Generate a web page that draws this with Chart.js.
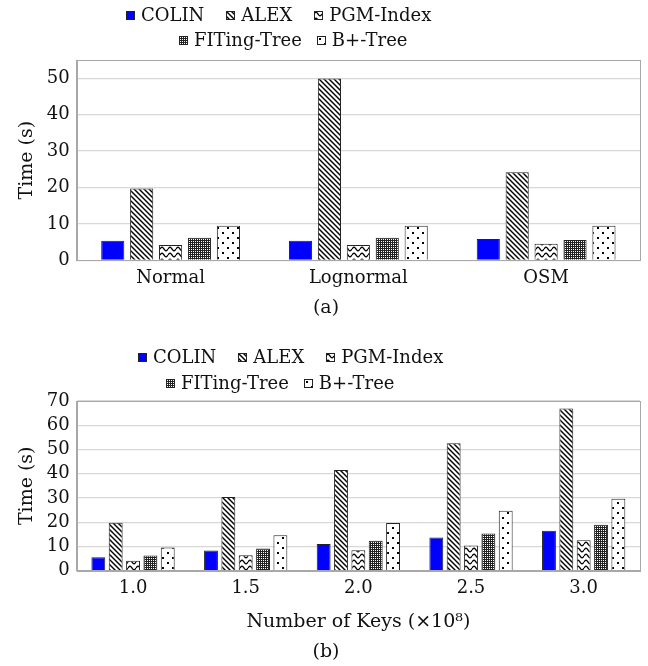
<!DOCTYPE html>
<html>
<head>
<meta charset="utf-8">
<script src="https://cdn.jsdelivr.net/npm/chart.js@4.4.0/dist/chart.umd.min.js"></script>
<style>
  body { margin: 0; background: #fff; font-family: "DejaVu Serif", serif; }
  .panel { position: absolute; left: 0; width: 648px; }
  .legend-row { position: absolute; display: flex; align-items: center; font-size: 18px; color: #111; white-space: nowrap; line-height: 22px; }
  .legend-item { display: flex; align-items: center; }
  .legend-item canvas { margin-right: 6px; }
</style>
</head>
<body>
<div class="panel" id="panelA" style="top:0;height:325px">
  <canvas id="chartA" width="648" height="325"></canvas>
</div>
<div class="panel" id="panelB" style="top:325px;height:341px">
  <canvas id="chartB" width="648" height="341"></canvas>
</div>
<script>
// ---- data ----
const seriesNames = ['COLIN', 'ALEX', 'PGM-Index', 'FITing-Tree', 'B+-Tree'];

// (a) datasets
const datasetsA = ['Normal', 'Lognormal', 'OSM'];
const colinA = [5.4, 5.4, 5.9];
const alexA  = [19.7, 49.9, 24.2];
const pgmA   = [4.2, 4.2, 4.6];
const fitA   = [6.2, 6.2, 5.6];
const btreeA = [9.5, 9.5, 9.5];

// (b) number of keys (x10^8)
const keysB  = ['1.0', '1.5', '2.0', '2.5', '3.0'];
const colinB = [5.5, 8.3, 11.0, 13.7, 16.4];
const alexB  = [19.7, 30.4, 41.5, 52.6, 66.9];
const pgmB   = [4.1, 6.3, 8.4, 10.4, 12.5];
const fitB   = [6.2, 9.1, 12.3, 15.3, 18.9];
const btreeB = [9.5, 14.6, 19.6, 24.7, 29.7];

const yMaxA = 55, yMaxB = 70, yStep = 10;

const FONT = '"DejaVu Serif", serif';

// ---- fill patterns ----
function makePattern(kind) {
    const c = document.createElement('canvas');
    let g;
    if (kind === 'solid') return '#0000ff';
    if (kind === 'lines') {
        const s = 5;
        c.width = s; c.height = s;
        g = c.getContext('2d');
        g.fillStyle = '#fff'; g.fillRect(0, 0, s, s);
        g.strokeStyle = '#000'; g.lineWidth = 1.4;
        [-s, 0, s].forEach(function(o) {
            g.beginPath(); g.moveTo(o - 1, -1); g.lineTo(o + s + 1, s + 1); g.stroke();
        });
    } else if (kind === 'waves') {
        const w = 8, h = 6;
        c.width = w; c.height = h;
        g = c.getContext('2d');
        g.fillStyle = '#fff'; g.fillRect(0, 0, w, h);
        g.strokeStyle = '#000'; g.lineWidth = 1.3;
        g.beginPath();
        for (let x = 0; x <= w; x += 0.5) {
            const y = 3 - 1.8 * Math.sin(2 * Math.PI * x / w);
            if (x === 0) g.moveTo(x, y); else g.lineTo(x, y);
        }
        g.stroke();
    } else if (kind === 'checker') {
        c.width = 4; c.height = 4;
        g = c.getContext('2d');
        g.fillStyle = '#222'; g.fillRect(0, 0, 4, 4);
        g.fillStyle = '#fff';
        g.fillRect(1, 1, 1, 1); g.fillRect(3, 3, 1, 1);
        g.fillRect(1, 3, 1, 1); g.fillRect(3, 1, 1, 1);
    } else if (kind === 'dots') {
        c.width = 10; c.height = 10;
        g = c.getContext('2d');
        g.fillStyle = '#fff'; g.fillRect(0, 0, 10, 10);
        g.fillStyle = '#000';
        g.fillRect(2, 2, 2, 2); g.fillRect(7, 7, 2, 2);
    }
    return document.createElement('canvas').getContext('2d').createPattern(c, 'repeat');
}

const patternKinds = ['solid', 'lines', 'waves', 'checker', 'dots'];
const fills = patternKinds.map(makePattern);

// frame around the plot area (top and right edges)
const framePlugin = {
    id: 'frame',
    afterDraw: function(chart) {
        const a = chart.chartArea, ctx = chart.ctx;
        ctx.save();
        ctx.strokeStyle = '#a8a8a8';
        ctx.lineWidth = 1;
        ctx.strokeRect(Math.round(a.left) + 0.5, Math.round(a.top) + 0.5,
                       Math.round(a.right - a.left), Math.round(a.bottom - a.top));
        ctx.restore();
    }
};

function buildDatasets(valueLists) {
    return valueLists.map(function(vals, i) {
        return {
            label: seriesNames[i],
            data: vals,
            backgroundColor: fills[i],
            borderColor: '#222',
            borderWidth: 1,
            categoryPercentage: 0.77,
            barPercentage: 0.8
        };
    });
}

function makeOptions(yMax, xTitle, caption, pad, titlePad) {
    return {
        responsive: false,
        animation: false,
        layout: { padding: pad },
        plugins: {
            legend: { display: false },
            tooltip: { enabled: false },
            title: {
                display: true,
                text: caption,
                position: 'bottom',
                color: '#111',
                font: { family: FONT, size: 19, weight: 'normal' },
                padding: titlePad
            }
        },
        scales: {
            x: {
                grid: { display: false, drawTicks: false },
                border: { color: '#a8a8a8' },
                ticks: { color: '#111', padding: 8, font: { family: FONT, size: 18, lineHeight: 1.1 } },
                title: xTitle ? {
                    display: true, text: xTitle, color: '#111',
                    font: { family: FONT, size: 19 },
                    padding: { top: 4, bottom: 0 }
                } : { display: false }
            },
            y: {
                min: 0,
                max: yMax,
                grid: { color: '#d8d8d8', lineWidth: 1.2, drawTicks: false },
                border: { color: '#a8a8a8' },
                ticks: {
                    stepSize: yStep,
                    includeBounds: false,
                    padding: 7,
                    color: '#111',
                    font: { family: FONT, size: 18, lineHeight: 1 }
                },
                title: {
                    display: true, text: 'Time (s)', color: '#111',
                    font: { family: FONT, size: 19 },
                    padding: { top: 4, bottom: 1 }
                }
            }
        }
    };
}

new Chart(document.getElementById('chartA'), {
    type: 'bar',
    data: { labels: datasetsA, datasets: buildDatasets([colinA, alexA, pgmA, fitA, btreeA]) },
    options: makeOptions(yMaxA, null, '(a)', { top: 60, left: 12, right: 8, bottom: 6 },
                         { top: 0, bottom: 0 }),
    plugins: [framePlugin]
});

new Chart(document.getElementById('chartB'), {
    type: 'bar',
    data: { labels: keysB, datasets: buildDatasets([colinB, alexB, pgmB, fitB, btreeB]) },
    options: makeOptions(yMaxB, 'Number of Keys (\u00d710\u2078)', '(b)', { top: 76, left: 12, right: 8, bottom: 3 },
                         { top: 7, bottom: 0 }),
    plugins: [framePlugin]
});

// ---- HTML legends (two rows: 3 + 2 items) ----
function swatch(i) {
    const c = document.createElement('canvas');
    c.width = 9; c.height = 9;
    const g = c.getContext('2d');
    g.fillStyle = fills[i];
    g.fillRect(0, 0, 9, 9);
    g.strokeStyle = '#222'; g.lineWidth = 1;
    g.strokeRect(0.5, 0.5, 8, 8);
    return c;
}

function legendRow(panel, indices, left, top, gap) {
    const row = document.createElement('div');
    row.className = 'legend-row';
    row.style.left = left + 'px';
    row.style.top = top + 'px';
    row.style.columnGap = gap + 'px';
    indices.forEach(function(i) {
        const item = document.createElement('div');
        item.className = 'legend-item';
        item.appendChild(swatch(i));
        const t = document.createElement('span');
        t.textContent = seriesNames[i];
        item.appendChild(t);
        row.appendChild(item);
    });
    document.getElementById(panel).appendChild(row);
}

legendRow('panelA', [0, 1, 2], 126, 4, 22);
legendRow('panelA', [3, 4], 179, 29, 15);
legendRow('panelB', [0, 1, 2], 138, 21, 22);
legendRow('panelB', [3, 4], 166, 47, 15);
</script>
</body>
</html>
